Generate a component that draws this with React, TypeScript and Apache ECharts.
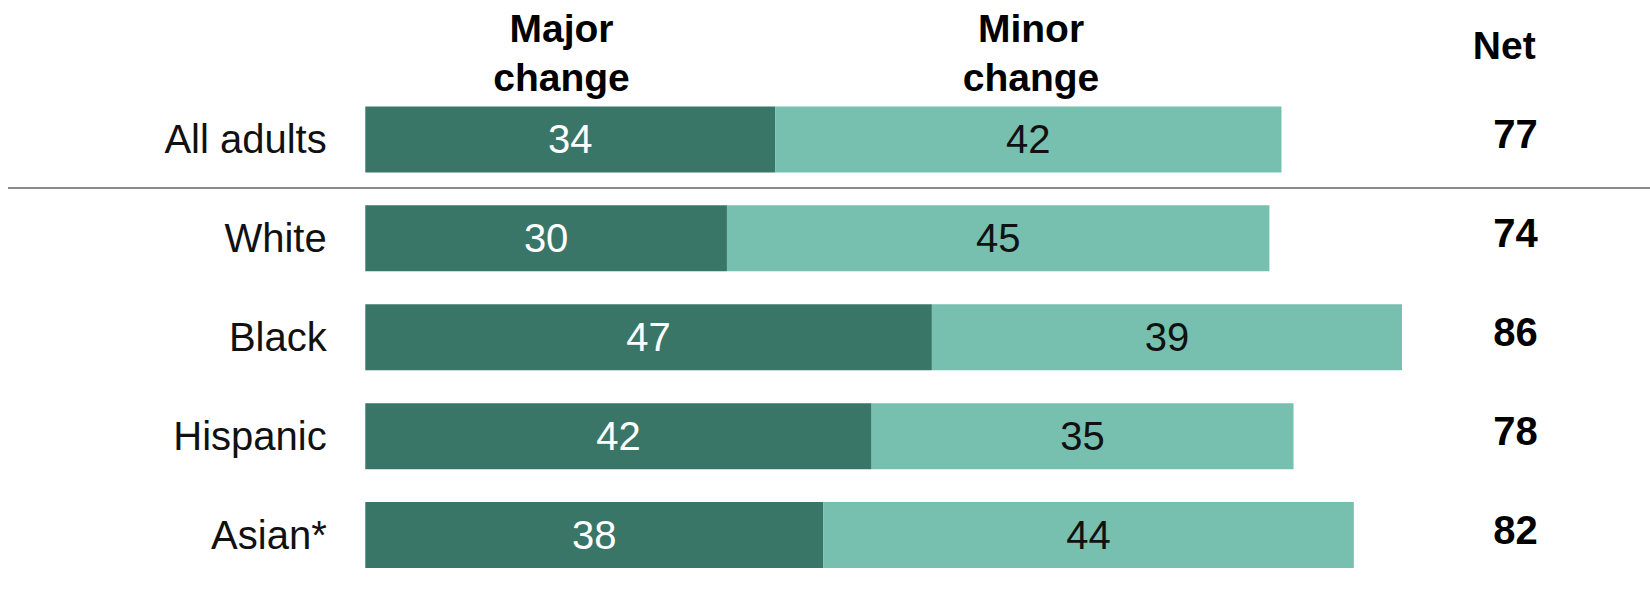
import React, { useEffect, useRef } from "react";
import * as echarts from "echarts";

const categories = ["All adults", "White", "Black", "Hispanic", "Asian*"];
const majorChange = [34, 30, 47, 42, 38];
const minorChange = [42, 45, 39, 35, 44];
const netValues = [77, 74, 86, 78, 82];
const headerMajor = "Major\nchange";
const headerMinor = "Minor\nchange";
const headerNet = "Net";

const DARK = "#397667";
const LIGHT = "#77bfaf";
const FONT = "'Liberation Sans', Arial, sans-serif";

export default function App() {
  const ref = useRef<HTMLDivElement>(null);
  useEffect(() => {
    if (!ref.current) return;
    const chart = echarts.init(ref.current, undefined, { renderer: "svg" });
    const option: any = {
      animation: false,
      backgroundColor: "#ffffff",
      grid: { left: 365.3, right: 79.2, top: 90, bottom: 7.5, containLabel: false },
      xAxis: { type: "value", min: 0, max: 100, show: false },
      yAxis: [
        {
          type: "category",
          data: categories,
          inverse: true,
          axisLine: { show: false },
          axisTick: { show: false },
          splitLine: { show: false },
          axisLabel: {
            margin: 38.6,
            fontFamily: FONT,
            fontSize: 40,
            color: "#111111",
          },
        },
        {
          type: "category",
          data: netValues.map(String),
          inverse: true,
          position: "right",
          axisLine: { show: false },
          axisTick: { show: false },
          splitLine: { show: false },
          axisLabel: {
            inside: true,
            margin: 33,
            fontFamily: FONT,
            fontSize: 40,
            fontWeight: "bold",
            color: "#000000",
            verticalAlign: "bottom",
            lineHeight: 11,
          },
        },
      ],
      series: [
        {
          type: "bar",
          stack: "total",
          data: majorChange,
          barWidth: 66,
          itemStyle: { color: DARK },
          label: {
            show: true,
            position: "inside",
            color: "#ffffff",
            fontFamily: FONT,
            fontSize: 40,
          },
        },
        {
          type: "bar",
          stack: "total",
          data: minorChange,
          barWidth: 66,
          itemStyle: { color: LIGHT },
          label: {
            show: true,
            position: "inside",
            color: "#111111",
            fontFamily: FONT,
            fontSize: 40,
          },
        },
      ],
      graphic: [
        {
          type: "line",
          shape: { x1: 8, y1: 188, x2: 1650, y2: 188 },
          style: { stroke: "#8a8a8a", lineWidth: 2 },
        },
        {
          type: "text",
          x: 561.5,
          y: 52.5,
          style: {
            text: headerMajor,
            align: "center",
            verticalAlign: "middle",
            font: `bold 39px ${FONT}`,
            lineHeight: 49,
            fill: "#000000",
          },
        },
        {
          type: "text",
          x: 1031,
          y: 52.5,
          style: {
            text: headerMinor,
            align: "center",
            verticalAlign: "middle",
            font: `bold 39px ${FONT}`,
            lineHeight: 49,
            fill: "#000000",
          },
        },
        {
          type: "text",
          x: 1504.2,
          y: 45.8,
          style: {
            text: headerNet,
            align: "center",
            verticalAlign: "middle",
            font: `bold 39px ${FONT}`,
            fill: "#000000",
          },
        },
      ],
    };
    chart.setOption(option);
    return () => chart.dispose();
  }, []);
  return (
    <div
      ref={ref}
      style={{ position: "fixed", left: 0, top: 0, width: 1650, height: 592 }}
    />
  );
}
